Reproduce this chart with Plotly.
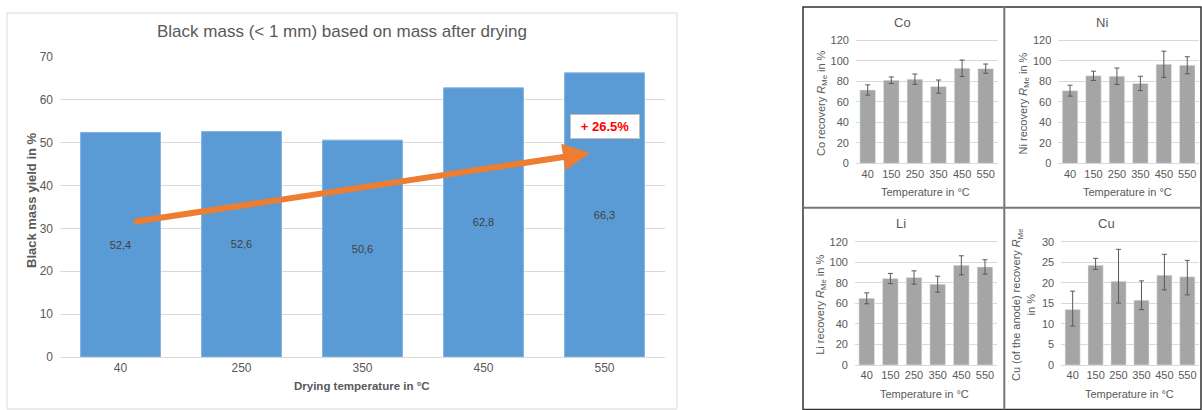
import plotly.graph_objects as go

# ---- data ----------------------------------------------------------------
drying_temps = ["40", "250", "350", "450", "550"]
black_mass_yield = [52.4, 52.6, 50.6, 62.8, 66.3]

temps = ["40", "150", "250", "350", "450", "550"]
co_rec = [71.5, 81.0, 82.0, 74.8, 92.7, 92.3]
co_err = [5.0, 3.2, 5.0, 6.4, 8.0, 4.5]
ni_rec = [70.8, 85.3, 84.9, 77.9, 96.5, 95.6]
ni_err = [5.3, 4.5, 8.0, 7.0, 12.8, 8.3]
li_rec = [65.0, 84.3, 85.3, 78.8, 97.2, 95.6]
li_err = [5.3, 5.0, 6.5, 7.8, 9.3, 7.0]
cu_rec = [13.5, 24.3, 20.4, 15.8, 21.9, 21.5]
cu_err_plus = [4.5, 1.7, 7.8, 4.7, 5.1, 4.0]
cu_err_minus = [4.0, 1.0, 5.3, 2.3, 3.6, 4.4]

# trend arrow (category index, %) from start to head
trend_start = (0.1, 31.5)
trend_end = (3.88, 47.6)

W, H = 1202, 410
FONT = "Liberation Sans, Arial, sans-serif"
TXT = "#595959"
GRID = "#D9D9D9"


def px_x(x):
    return x / W


def px_y(y):
    return 1 - y / H


def label(text, x, y, size, angle=0, **kw):
    """Centred paper-space text placed at pixel position (x, y)."""
    return dict(text=text, x=px_x(x), y=px_y(y), xref="paper", yref="paper",
                xanchor="center", yanchor="middle", textangle=angle,
                showarrow=False, font=dict(size=size, color=TXT), **kw)


fig = go.Figure()

# ---- main chart: black mass yield ----------------------------------------
fig.add_trace(go.Bar(
    x=drying_temps, y=black_mass_yield,
    marker=dict(color="#5B9BD5", line=dict(color="#7FB2E5", width=1)),
    text=[f"{v:.1f}".replace(".", ",") for v in black_mass_yield],
    textposition="inside", insidetextanchor="middle",
    textfont=dict(family=FONT, size=11, color="#404040"),
    xaxis="x", yaxis="y", showlegend=False,
))

increase = (black_mass_yield[-1] / black_mass_yield[0] - 1) * 100

# ---- small panels ---------------------------------------------------------
panels = [
    # name, values, err+, err-, axis suffix, x domain px, y domain px (top, bottom),
    # y max, tick step, panel centre x
    ("Co", co_rec, co_err, co_err, "2", (855.9, 997.5), (39.0, 163.3), 120, 20, 902),
    ("Ni", ni_rec, ni_err, ni_err, "3", (1058.3, 1199.0), (39.0, 163.3), 120, 20, 1102),
    ("Li", li_rec, li_err, li_err, "4", (854.9, 996.8), (240.7, 365.0), 120, 20, 901),
    ("Cu", cu_rec, cu_err_plus, cu_err_minus, "5", (1061.2, 1198.8), (240.7, 365.0), 30, 5, 1106),
]

for name, vals, ep, em, sfx, xd, yd, ymax, dt, pc in panels:
    fig.add_trace(go.Bar(
        x=temps, y=vals,
        marker=dict(color="#A5A5A5"),
        error_y=dict(type="data", array=ep, arrayminus=em, color="#595959",
                     thickness=1, width=2.5),
        xaxis="x" + sfx, yaxis="y" + sfx, showlegend=False,
    ))

layout = dict(
    width=W, height=H, autosize=False,
    margin=dict(l=0, r=0, t=0, b=0, pad=0),
    paper_bgcolor="white", plot_bgcolor="white",
    font=dict(family=FONT, color=TXT),
    bargap=0.34,
    xaxis=dict(domain=[px_x(60), px_x(665)], showgrid=False, automargin=False,
               showline=True, linecolor=GRID, linewidth=1,
               tickfont=dict(size=12, color=TXT), ticks="", anchor="y"),
    yaxis=dict(domain=[px_y(357), px_y(57)], range=[0, 70], dtick=10,
               automargin=False,
               gridcolor=GRID, gridwidth=1, zeroline=False,
               tickfont=dict(size=12, color=TXT), ticklabelstandoff=6,
               anchor="x"),
)

annotations = [
    label("Black mass (&lt; 1 mm) based on mass after drying", 342, 32, 17),
    label("<b>Black mass yield in %</b>", 31, 200, 13, angle=-90),
    label("<b>Drying temperature in °C</b>", 362, 386, 11.5),
    # trend arrow
    dict(x=trend_end[0], y=trend_end[1], ax=trend_start[0], ay=trend_start[1],
         xref="x", yref="y", axref="x", ayref="y", text="",
         showarrow=True, arrowhead=2, arrowsize=0.9, arrowwidth=6,
         arrowcolor="#ED7D31"),
    dict(text=f"<b>+ {increase:.1f}%</b>", x=4, y=53.9, xref="x", yref="y",
         xanchor="center", yanchor="middle",
         showarrow=False, font=dict(size=13, color="#FF0000"),
         bgcolor="white", bordercolor="#BFBFBF", borderwidth=1,
         borderpad=4, width=60),
]

ytitles = {
    "Co": "Co recovery <i>R</i><sub>Me</sub> in %",
    "Ni": "Ni recovery <i>R</i><sub>Me</sub> in %",
    "Li": "Li recovery <i>R</i><sub>Me</sub> in %",
    "Cu": "Cu (of the anode) recovery <i>R</i><sub>Me</sub><br>in %",
}

for name, vals, ep, em, sfx, xd, yd, ymax, dt, pc in panels:
    layout["xaxis" + sfx] = dict(
        domain=[px_x(xd[0]), px_x(xd[1])], anchor="y" + sfx, automargin=False,
        showgrid=False, showline=True, linecolor=GRID, linewidth=1,
        tickfont=dict(size=11, color=TXT), ticks="")
    layout["yaxis" + sfx] = dict(
        domain=[px_y(yd[1]), px_y(yd[0])], anchor="x" + sfx, automargin=False,
        range=[0, ymax * 1.01], tickvals=list(range(0, ymax + 1, dt)),
        gridcolor=GRID, gridwidth=1, zeroline=False,
        tickfont=dict(size=11, color=TXT), ticklabelstandoff=6)
    xc = (xd[0] + xd[1]) / 2
    annotations.append(label(name, pc, yd[0] - 17, 13))
    annotations.append(label("Temperature in °C", xc - 1, yd[1] + 29, 11))
    ytx = xd[0] - 34 if name != "Cu" else xd[0] - 38
    annotations.append(label(ytitles[name], ytx, (yd[0] + yd[1]) / 2 + 2, 11,
                             angle=-90))

layout["annotations"] = annotations

# frames: main chart border and the 2x2 panel grid
layout["shapes"] = [
    dict(type="rect", xref="paper", yref="paper",
         x0=px_x(7), x1=px_x(677), y0=px_y(409), y1=px_y(13),
         line=dict(color="#D9D9D9", width=1)),
    dict(type="rect", xref="paper", yref="paper",
         x0=px_x(803), x1=px_x(1201), y0=px_y(409.5), y1=px_y(7),
         line=dict(color="#333333", width=1.5)),
    dict(type="line", xref="paper", yref="paper",
         x0=px_x(1004.3), x1=px_x(1004.3), y0=px_y(409.5), y1=px_y(7),
         line=dict(color="#777777", width=2)),
    dict(type="line", xref="paper", yref="paper",
         x0=px_x(803), x1=px_x(1201), y0=px_y(207.7), y1=px_y(207.7),
         line=dict(color="#777777", width=2)),
]

fig.update_layout(**layout)
fig.write_html("out.html")
